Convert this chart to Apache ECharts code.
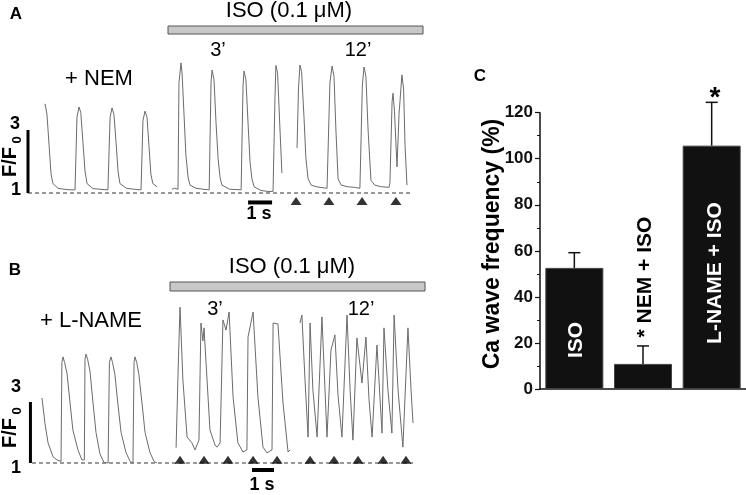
<!DOCTYPE html>
<html><head><meta charset="utf-8">
<script src="https://cdn.jsdelivr.net/npm/echarts@6.0.0/dist/echarts.min.js"></script>
<style>html,body{margin:0;padding:0;background:#fff}#c{width:746px;height:495px}</style>
</head><body><div id="c"></div>
<script>
const FONT = '"Liberation Sans", Arial, Helvetica, sans-serif';

// ---------- Panel A: + NEM (time s, F/F0) ----------
const traceA_NEM = [[0.71,3.83],[0.79,3.5],[0.88,2.5],[0.96,1.6],[1.04,1.3],[1.25,1.15],[1.5,1.12],[1.75,1.1],[1.96,1.1],
 [2.0,1.15],[2.04,3.4],[2.125,3.73],[2.2,3.55],[2.29,2.6],[2.375,1.7],[2.46,1.3],[2.7,1.14],[3.0,1.12],[3.33,1.1],
 [3.375,1.12],[3.42,3.4],[3.5,3.7],[3.58,3.5],[3.67,2.6],[3.75,1.7],[3.83,1.3],[4.1,1.15],[4.4,1.12],[4.71,1.1],
 [4.75,1.12],[4.79,3.3],[4.875,3.6],[4.96,3.4],[5.04,2.5],[5.12,1.6],[5.2,1.3],[5.375,1.2]];
const traceA_ISO3 = [[6.0,1.12],[6.1,1.15],[6.25,1.12],[6.29,4.5],[6.375,5.13],[6.42,4.8],[6.5,3.5],[6.58,2.2],[6.67,1.5],[6.75,1.25],[7.0,1.15],[7.3,1.12],[7.55,1.1],
 [7.58,1.12],[7.625,4.5],[7.67,4.9],[7.75,4.6],[7.83,3.3],[7.92,2.1],[8.0,1.5],[8.08,1.25],[8.4,1.12],[8.88,1.1],
 [8.92,1.12],[8.96,4.4],[9.0,4.87],[9.08,4.6],[9.17,3.2],[9.25,2.0],[9.33,1.45],[9.42,1.2],[9.7,1.08],[10.0,1.05],[10.21,1.05],
 [10.25,1.1],[10.29,4.0],[10.33,5.05],[10.4,4.8],[10.5,3.0],[10.58,1.63]];
const traceA_ISO12 = [[11.21,2.43],[11.27,4.3],[11.33,5.06],[11.4,4.85],[11.5,3.4],[11.58,2.1],[11.67,1.45],[11.8,1.25],[12.0,1.2],[12.25,1.17],[12.46,1.15],
 [12.5,1.2],[12.58,4.5],[12.67,5.03],[12.75,4.7],[12.83,3.0],[12.92,1.45],[13.05,1.25],[13.3,1.2],[13.6,1.18],[13.83,1.15],
 [13.875,1.2],[13.93,4.4],[14.0,5.0],[14.08,4.7],[14.17,3.0],[14.29,1.4],[14.45,1.25],[14.7,1.2],[15.04,1.18],
 [15.08,1.3],[15.17,3.9],[15.21,4.17],[15.27,3.6],[15.375,1.83],[15.46,3.5],[15.58,4.75],[15.65,4.3],[15.71,2.5],[15.79,1.25]];
const wavesA_t = [11.17, 12.54, 13.92, 15.33];
const wavesA_v = 0.75;
const baselineA = [[0,1],[15.92,1]];
const scaleA_F = [[0,1],[0,3]];
const scaleA_time = [[9.17,0.7],[10.17,0.7]];

// ---------- Panel B: + L-NAME ----------
const traceB_LNAME = [[0.545,3.13],[0.68,2.3],[0.82,1.66],[1.05,1.2],[1.23,1.1],[1.41,1.05],
 [1.43,1.08],[1.45,4.3],[1.5,4.48],[1.57,4.3],[1.68,3.95],[1.82,2.97],[1.95,2.08],[2.18,1.43],[2.36,1.1],[2.45,1.05],
 [2.47,1.1],[2.5,4.4],[2.545,4.57],[2.62,4.4],[2.73,4.0],[2.86,3.0],[3.0,2.0],[3.18,1.3],[3.36,1.02],[3.55,1.0],
 [3.57,1.05],[3.61,4.3],[3.68,4.48],[3.75,4.3],[3.86,3.9],[4.0,2.9],[4.14,2.0],[4.36,1.35],[4.55,1.05],[4.68,1.0],
 [4.7,1.05],[4.73,4.3],[4.77,4.48],[4.85,4.3],[4.95,3.9],[5.1,2.9],[5.23,2.0],[5.45,1.35],[5.64,1.05],[5.77,1.0]];
const traceB_ISO3 = [[6.64,1.5],[6.75,4.5],[6.82,6.11],[6.95,3.72],[7.14,1.85],[7.36,1.66],[7.5,1.43],[7.68,1.75],
 [7.77,5.59],[7.86,5.0],[7.91,5.43],[8.18,2.08],[8.41,1.59],[8.5,1.52],[8.64,1.66],
 [8.77,5.69],[8.91,5.36],[9.05,5.95],[9.23,3.17],[9.45,1.66],[9.68,1.36],[9.86,1.43],
 [9.91,5.13],[10.14,5.95],[10.36,3.17],[10.59,1.52],[10.77,1.33],[11.0,1.43],
 [11.05,5.59],[11.27,5.56],[11.5,2.97],[11.73,1.36],[11.82,1.43]];
const traceB_ISO12 = [[12.27,5.59],[12.36,5.85],[12.5,3.72],[12.64,1.85],[12.73,5.59],[12.86,3.39],[13.05,1.85],[13.27,5.79],[13.41,3.39],[13.5,1.85],
 [13.68,4.7],[13.86,5.2],[14.0,3.23],[14.18,1.85],[14.41,5.85],[14.55,3.39],[14.68,1.75],[14.86,5.1],[15.09,3.62],[15.27,5.13],[15.41,3.07],[15.55,1.85],
 [15.77,4.87],[16.0,1.98],[16.09,5.43],[16.27,3.39],[16.45,1.98],[16.55,5.85],[16.73,3.39],[16.95,1.52],[17.18,5.43],[17.32,3.39],[17.41,2.31]];
const wavesB_t = [6.82, 7.91, 9.0, 10.14, 11.23, 12.73, 13.82, 14.91, 16.05, 17.09];
const wavesB_v = 1.11;
const baselineB = [[0.09,1],[17.41,1]];
const scaleB_F = [[0.02,1],[0.02,3]];
const scaleB_time = [[10.09,0.77],[11.09,0.77]];

// ---------- Panel C ----------
const categories = ['ISO', 'NEM + ISO', 'L-NAME + ISO'];
const means = [52.6, 10.9, 105.7];
const sem = [6.6, 7.8, 18.8];
const yTicksC = [0, 20, 40, 60, 80, 100, 120];

const chart = echarts.init(document.getElementById('c'), null, {renderer: 'canvas'});
const TRACE = '#6b6b6b';

function traceSeries(data, xi) {
  return {type:'line', xAxisIndex:xi, yAxisIndex:xi, data, showSymbol:false, symbol:'none',
    lineStyle:{color:TRACE, width:1}, z:3, clip:false, silent:true};
}
function segSeries(data, xi, width, dashed, color) {
  return {type:'line', xAxisIndex:xi, yAxisIndex:xi, data, showSymbol:false, symbol:'none',
    lineStyle:{color:color||'#000', width, type: dashed ? [4,3] : 'solid'}, z: dashed?2:4, clip:false, silent:true};
}
function triSeries(ts, v, xi) {
  return {type:'scatter', xAxisIndex:xi, yAxisIndex:xi, data: ts.map(t=>[t,v]), symbol:'triangle',
    symbolSize:[11,8], itemStyle:{color:'#000'}, z:5, silent:true};
}

function txt(x, y, text, size, opts) {
  opts = opts || {};
  return {type:'text', x, y, rotation: opts.rot || 0, z: 100,
    style:{text, fill: opts.fill || '#000', font: (opts.bold ? 'bold ' : '') + size + 'px ' + FONT,
      align:'center', verticalAlign:'middle', textAlign:'center', textVerticalAlign:'middle'}};
}

const graphics = [
  // Panel A
  txt(16, 14, 'A', 17, {bold:true}),
  txt(289, 11, 'ISO (0.1 μM)', 22),
  {type:'rect', shape:{x:168, y:26, width:255, height:8}, style:{fill:'#c8c8c8', stroke:'#555', lineWidth:1}},
  txt(218, 50, '3’', 20),
  txt(358, 50, '12’', 20),
  txt(99, 79, '+ NEM', 22),
  txt(15, 124, '3', 18, {bold:true}),
  txt(16, 190, '1', 18, {bold:true}),
  txt(10, 162, 'F/F', 20, {bold:true, rot:Math.PI/2}),
  txt(17, 140, '0', 13, {bold:true, rot:Math.PI/2}),
  txt(259, 214, '1 s', 18, {bold:true}),
  // Panel B
  txt(15, 270, 'B', 17, {bold:true}),
  txt(292, 267, 'ISO (0.1 μM)', 22),
  {type:'rect', shape:{x:170, y:282, width:255, height:9}, style:{fill:'#c8c8c8', stroke:'#555', lineWidth:1}},
  txt(215, 309, '3’', 20),
  txt(361, 309, '12’', 20),
  txt(91, 321, '+ L-NAME', 22),
  txt(16, 387, '3', 18, {bold:true}),
  txt(16, 468, '1', 18, {bold:true}),
  txt(10.5, 433, 'F/F', 20, {bold:true, rot:Math.PI/2}),
  txt(17, 411, '0', 13, {bold:true, rot:Math.PI/2}),
  txt(262, 485, '1 s', 18, {bold:true}),
  // Panel C
  txt(480, 76, 'C', 17, {bold:true}),
  txt(493, 244, 'Ca wave frequency (%)', 23, {bold:true, rot:Math.PI/2}),
  txt(576, 340, categories[0], 21, {bold:true, rot:Math.PI/2, fill:'#fff'}),
  txt(645, 277, '* ' + categories[1], 21, {bold:true, rot:Math.PI/2}),
  txt(715, 273, categories[2], 21, {bold:true, rot:Math.PI/2, fill:'#fff'}),
  txt(715, 98, '*', 28, {bold:true})
];

const option = {
  animation:false,
  backgroundColor:'#fff',
  textStyle:{fontFamily:FONT},
  grid:[
    {left:4, top:35.5, width:420, height:173.25},
    {left:8, top:295.25, width:418, height:183},
    {left:540, top:112.7, width:210, height:276.3}
  ],
  xAxis:[
    {gridIndex:0, type:'value', min:-1, max:16.5, show:false},
    {gridIndex:1, type:'value', min:-1, max:18, show:false},
    {gridIndex:2, type:'category', data:categories,
      axisLine:{lineStyle:{color:'#111', width:1.5}}, axisTick:{show:false}, axisLabel:{show:false}}
  ],
  yAxis:[
    {gridIndex:0, type:'value', min:0.5, max:6, show:false},
    {gridIndex:1, type:'value', min:0.5, max:6.5, show:false},
    {gridIndex:2, type:'value', min:0, max:120, interval:20,
      axisLine:{show:true, lineStyle:{color:'#111', width:1.5}},
      axisTick:{show:true, length:5, lineStyle:{color:'#111', width:1.2}},
      minorTick:{show:true, splitNumber:2, length:3, lineStyle:{color:'#111', width:1}},
      splitLine:{show:false},
      axisLabel:{margin:7, color:'#111', fontSize:17, fontWeight:'bold', fontFamily:FONT,
        formatter: v => yTicksC.includes(v) ? String(v) : ''}}
  ],
  series:[
    segSeries(baselineA, 0, 1.2, true, '#333'),
    traceSeries(traceA_NEM, 0), traceSeries(traceA_ISO3, 0), traceSeries(traceA_ISO12, 0),
    segSeries(scaleA_F, 0, 3), segSeries(scaleA_time, 0, 4),
    triSeries(wavesA_t, wavesA_v, 0),

    segSeries(baselineB, 1, 1.2, true, '#333'),
    traceSeries(traceB_LNAME, 1), traceSeries(traceB_ISO3, 1), traceSeries(traceB_ISO12, 1),
    segSeries(scaleB_F, 1, 3), segSeries(scaleB_time, 1, 4),
    triSeries(wavesB_t, wavesB_v, 1),

    {type:'bar', xAxisIndex:2, yAxisIndex:2, data:means, barWidth:58,
      itemStyle:{color:'#111', borderColor:'#444', borderWidth:1}, silent:true, z:2},
    {type:'custom', xAxisIndex:2, yAxisIndex:2, data: means.map((m,i)=>[i, m, m+sem[i]]),
      renderItem:(params, api) => {
        const i = api.value(0);
        const p0 = api.coord([i, api.value(1)]);
        const p1 = api.coord([i, api.value(2)]);
        const hw = 6;
        return {type:'group', children:[
          {type:'line', shape:{x1:p0[0], y1:p0[1], x2:p1[0], y2:p1[1]}, style:{stroke:'#111', lineWidth:1.5}},
          {type:'line', shape:{x1:p1[0]-hw, y1:p1[1], x2:p1[0]+hw, y2:p1[1]}, style:{stroke:'#111', lineWidth:1.5}}
        ]};
      }, z:3, silent:true}
  ],
  graphic: graphics
};
chart.setOption(option);
</script></body></html>
